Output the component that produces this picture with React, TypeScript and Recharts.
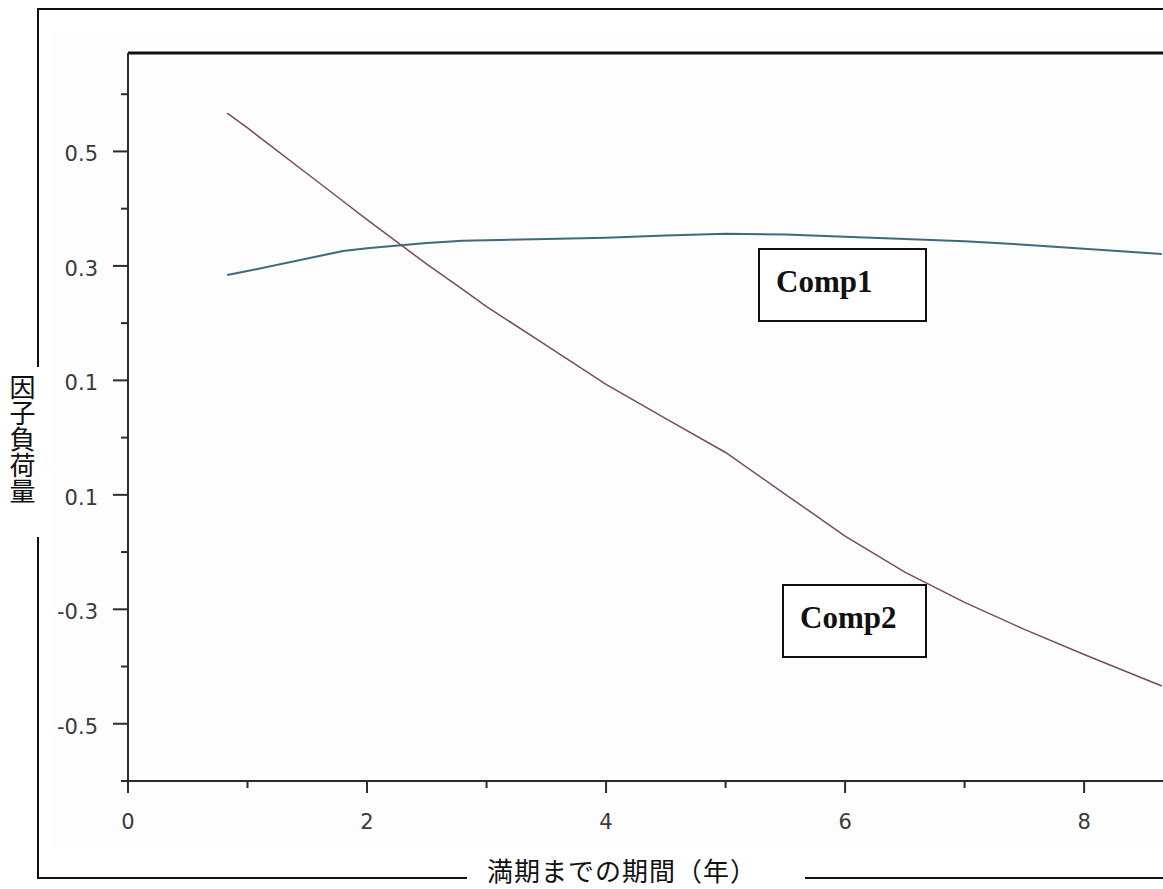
import React from "react";
import { LineChart, Line, XAxis, YAxis, ReferenceLine } from "recharts";

// 満期別の因子負荷量（主成分 Comp1 / Comp2）
const MATURITY = [0.83, 1.0, 1.5, 1.8, 2.0, 2.5, 2.8, 3.0, 3.5, 4.0, 4.5, 5.0, 5.5, 6.0, 6.5, 7.0, 7.5, 8.0, 8.65];
const COMP1 = [0.284, 0.291, 0.313, 0.326, 0.331, 0.34, 0.344, 0.345, 0.347, 0.349, 0.353, 0.356, 0.355, 0.351, 0.347, 0.343, 0.337, 0.33, 0.321];
const COMP2 = [0.567, 0.541, 0.461, 0.413, 0.381, 0.303, 0.259, 0.229, 0.161, 0.093, 0.033, -0.026, -0.099, -0.172, -0.235, -0.288, -0.335, -0.379, -0.434];

const X_TICKS = [0, 1, 2, 3, 4, 5, 6, 7, 8];
const X_MAJOR = [0, 2, 4, 6, 8];
const Y_TICKS = [0.6, 0.5, 0.4, 0.3, 0.2, 0.1, 0, -0.1, -0.2, -0.3, -0.4, -0.5, -0.6];
const Y_MAJOR = [0.5, 0.3, 0.1, -0.1, -0.3, -0.5];
const Y_LABELS = ["0.5", "0.3", "0.1", "0.1", "-0.3", "-0.5"]; // as printed in the original

const X_MAX = 8.66;
const Y_MIN = -0.6;
const Y_MAX = 0.672;

const data = MATURITY.map((m, i) => ({ m, comp1: COMP1[i], comp2: COMP2[i] }));

const AXIS = "#2b2b2b";
const TICK_FONT = "'DejaVu Sans', sans-serif";
const JP_FONT = "'Noto Sans CJK JP', sans-serif";

function XTick(props: any) {
  const { x, y, payload } = props;
  const major = X_MAJOR.includes(payload.value);
  return (
    <g>
      <line x1={x} x2={x} y1={y} y2={y + (major ? 12 : 7)} stroke={AXIS} strokeWidth={2} />
      {major && (
        <text x={x} y={y + 41} textAnchor="middle" dominantBaseline="central" fontFamily={TICK_FONT} fontSize={21} fill="#3a3a3a">
          {payload.value}
        </text>
      )}
    </g>
  );
}

function YTick(props: any) {
  const { x, y, payload } = props;
  const idx = Y_MAJOR.findIndex((v) => Math.abs(v - payload.value) < 1e-9);
  const major = idx >= 0;
  return (
    <g>
      <line x1={x - (major ? 15 : 7)} x2={x} y1={y} y2={y} stroke={AXIS} strokeWidth={2} />
      {major && (
        <text x={x - 30} y={y + 3} textAnchor="end" dominantBaseline="central" fontFamily={TICK_FONT} fontSize={21} fill="#3a3a3a">
          {Y_LABELS[idx]}
        </text>
      )}
    </g>
  );
}

const line = (style: React.CSSProperties) => <div style={{ position: "absolute", background: "#111", ...style }} />;

function Box({ left, top, width, height, text }: { left: number; top: number; width: number; height: number; text: string }) {
  return (
    <div
      style={{
        position: "absolute",
        left,
        top,
        width,
        height,
        boxSizing: "border-box",
        border: "2px solid #111",
        background: "#fff",
        fontFamily: "'Liberation Serif', 'Times New Roman', serif",
        fontWeight: "bold",
        fontSize: 31,
        lineHeight: "31px",
        paddingLeft: 16,
        paddingTop: 16,
        color: "#111",
      }}
    >
      {text}
    </div>
  );
}

export default function App() {
  return (
    <div style={{ position: "absolute", left: 0, top: 0, width: 1163, height: 889, background: "#fff", overflow: "hidden" }}>
      {/* panel background */}
      <div style={{ position: "absolute", left: 53, top: 33, width: 1110, height: 814, background: "#fdfdfd" }} />

      <div style={{ position: "absolute", left: 0, top: 0 }}>
        <LineChart width={1163} height={889} data={data} margin={{ top: 53, right: 0, bottom: 68, left: 68 }}>
          <XAxis
            dataKey="m"
            type="number"
            domain={[0, X_MAX]}
            ticks={X_TICKS}
            allowDataOverflow
            height={40}
            tickSize={0}
            tickMargin={0}
            tickLine={false}
            axisLine={{ stroke: AXIS, strokeWidth: 2 }}
            tick={(p: any) => <XTick {...p} />}
            interval={0}
          />
          <YAxis
            type="number"
            domain={[Y_MIN, Y_MAX]}
            ticks={Y_TICKS}
            allowDataOverflow
            width={60}
            tickSize={0}
            tickMargin={0}
            tickLine={false}
            axisLine={{ stroke: AXIS, strokeWidth: 2 }}
            tick={(p: any) => <YTick {...p} />}
            interval={0}
          />
          <ReferenceLine y={Y_MAX} stroke="#111" strokeWidth={3} ifOverflow="visible" />
          <Line type="linear" dataKey="comp1" stroke="#3f6a7e" strokeWidth={2} dot={false} isAnimationActive={false} />
          <Line type="linear" dataKey="comp2" stroke="#7a4868" strokeWidth={1.5} dot={false} isAnimationActive={false} />
        </LineChart>
      </div>

      {/* outer frame */}
      {line({ left: 37, top: 8, width: 1126, height: 2 })}
      {line({ left: 37, top: 8, width: 2, height: 359 })}
      {line({ left: 37, top: 537, width: 2, height: 342 })}
      {line({ left: 37, top: 877, width: 430, height: 2 })}
      {line({ left: 805, top: 877, width: 358, height: 2 })}

      {/* axis titles */}
      <div
        style={{
          position: "absolute",
          left: 8,
          top: 374,
          writingMode: "vertical-rl",
          fontFamily: JP_FONT,
          fontSize: 26,
          lineHeight: "28px",
          color: "#111",
        }}
      >
        因子負荷量
      </div>
      <div
        style={{
          position: "absolute",
          left: 487,
          top: 857,
          fontFamily: JP_FONT,
          fontSize: 26,
          lineHeight: "26px",
          letterSpacing: 1,
          color: "#111",
          whiteSpace: "nowrap",
        }}
      >
        満期までの期間（年）
      </div>

      {/* series annotations */}
      <Box left={758} top={248} width={169} height={74} text="Comp1" />
      <Box left={782} top={584} width={145} height={74} text="Comp2" />
    </div>
  );
}
